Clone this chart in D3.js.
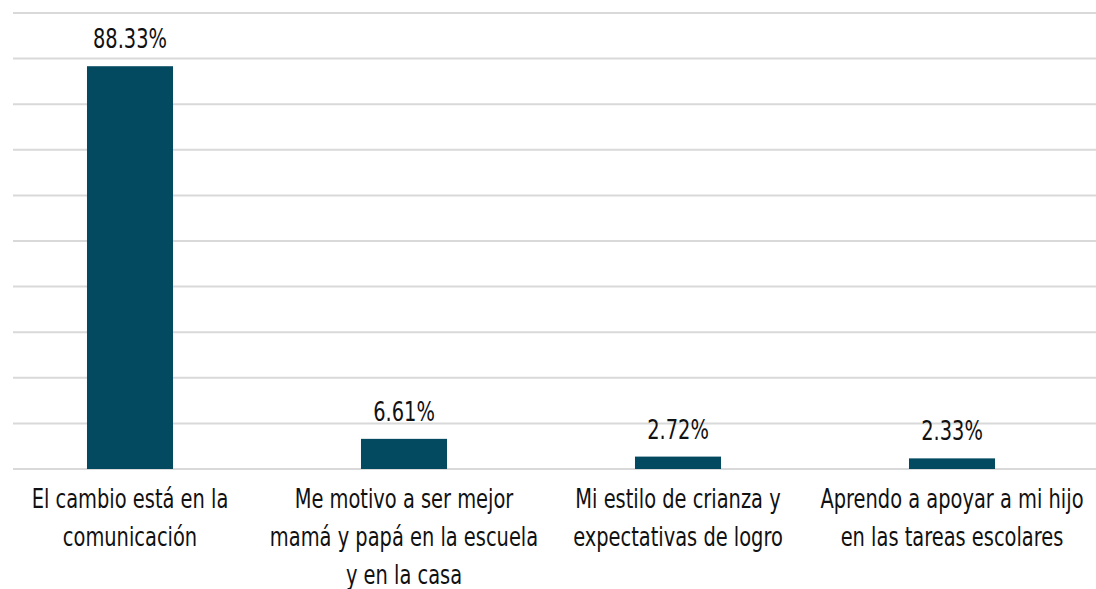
<!DOCTYPE html>
<html>
<head>
<meta charset="utf-8">
<script src="https://cdn.jsdelivr.net/npm/d3@7"></script>
<style>
  body { margin: 0; background: #fff; }
  text { font-family: "DejaVu Sans Condensed", "DejaVu Sans", sans-serif; fill: #111; }
</style>
</head>
<body>
<div id="chart"></div>
<script>
// chart data
var categories = [
    ["El cambio está en la", "comunicación"],
    ["Me motivo a ser mejor", "mamá y papá en la escuela", "y en la casa"],
    ["Mi estilo de crianza y", "expectativas de logro"],
    ["Aprendo a apoyar a mi hijo", "en las tareas escolares"]
];
var values = [88.33, 6.61, 2.72, 2.33];
var tickValues = [0, 10, 20, 30, 40, 50, 60, 70, 80, 90, 100];

var width = 1096, height = 589;
var gridLeft = 13, baseY = 469, topY = 13;
var squeeze = 0.8; // narrow the font to look condensed

var svg = d3.select("#chart").append("svg")
    .attr("width", width)
    .attr("height", height);

// set the ranges
var x = d3.scaleBand()
    .domain(d3.range(values.length))
    .range([-7, 1089])
    .paddingInner(0.686)
    .paddingOuter(0.343);
var y = d3.scaleLinear().domain([0, 100]).range([baseY, topY]);

// gridlines
svg.append("g")
    .selectAll("line")
    .data(tickValues)
    .enter().append("line")
    .attr("x1", gridLeft)
    .attr("x2", width)
    .attr("y1", d => y(d))
    .attr("y2", d => y(d))
    .attr("stroke", "#d9d9d9")
    .attr("stroke-width", 2);

// bars
svg.selectAll(".bar")
    .data(values)
    .enter().append("rect")
    .attr("class", "bar")
    .attr("x", (d, i) => x(i))
    .attr("width", x.bandwidth())
    .attr("y", d => y(d))
    .attr("height", d => y(0) - y(d))
    .attr("fill", "#034a60");

// value labels
svg.selectAll(".value")
    .data(values)
    .enter().append("text")
    .attr("class", "value")
    .attr("transform", (d, i) => "translate(" + (x(i) + x.bandwidth() / 2) + "," + (y(d) - 18) + ") scale(" + squeeze + ",1)")
    .style("text-anchor", "middle")
    .style("font-size", "27px")
    .text(d => d.toFixed(2) + "%");

// category labels
var cat = svg.selectAll(".cat")
    .data(categories)
    .enter().append("text")
    .attr("class", "cat")
    .style("text-anchor", "middle")
    .style("font-size", "27px")
    .attr("transform", (d, i) => "translate(" + (x(i) + x.bandwidth() / 2) + ",508) scale(" + squeeze + ",1)");

cat.selectAll("tspan")
    .data(d => d)
    .enter().append("tspan")
    .attr("x", 0)
    .attr("y", (d, j) => j * 38)
    .text(d => d);
</script>
</body>
</html>
